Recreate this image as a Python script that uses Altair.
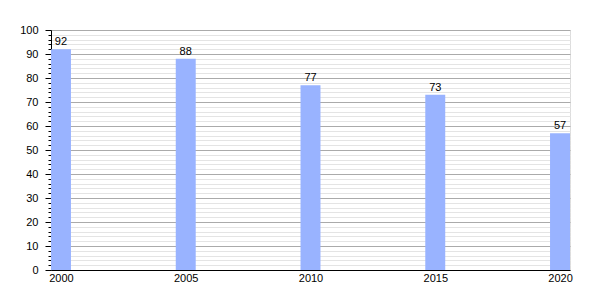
import altair as alt
import pandas as pd

years = [2000, 2005, 2010, 2015, 2020]
values = [92, 88, 77, 73, 57]
y_ticks = list(range(0, 101, 2))
x_ticks = [2000.4, 2005.4, 2010.4, 2015.4, 2020.4]

df = pd.DataFrame({"year": years, "value": values})

FONT = "Liberation Sans"
BAR = "#99b3ff"

xscale = alt.Scale(domain=[2000, 2020.8], nice=False, zero=False)
yscale = alt.Scale(domain=[0, 100], nice=False)

xaxis = alt.Axis(values=x_ticks, labelExpr="floor(datum.value)", title=None,
                 ticks=False, grid=False, domainColor="black", labelColor="black",
                 labelFont=FONT, labelFontSize=11, labelPadding=2, labelFlush=False)
yaxis = alt.Axis(values=y_ticks, title=None,
                 labelExpr="datum.value % 10 === 0 ? datum.value : ''",
                 domainColor="black", labelColor="black", labelFont=FONT,
                 labelFontSize=11, labelPadding=7,
                 tickColor="black",
                 tickSize={"condition": {"test": "datum.value % 10 === 0", "value": 6}, "value": 3},
                 gridColor={"condition": {"test": "datum.value % 10 === 0", "value": "#aaaaaa"}, "value": "#e4e4e4"},
                 labelFlush=False, labelOverlap=False)

base = alt.Chart(df).transform_calculate(
    x0="datum.year", x1="datum.year + 0.8", xm="datum.year + 0.4"
)

bars = base.mark_bar(color=BAR).encode(
    x=alt.X("x0:Q", scale=xscale, axis=xaxis),
    x2="x1:Q",
    y=alt.Y("value:Q", scale=yscale, axis=yaxis),
    y2=alt.datum(0),
)

labels = base.mark_text(baseline="bottom", dy=-2, font=FONT, fontSize=11, color="black").encode(
    x=alt.X("xm:Q", scale=xscale, axis=xaxis),
    y=alt.Y("value:Q", scale=yscale, axis=yaxis),
    text="value:Q",
)

chart = (bars + labels).properties(
    width=519, height=240,
    autosize=alt.AutoSizeParams(type="none"),
    padding={"left": 51, "top": 30, "right": 30, "bottom": 30},
).configure_view(stroke=None).configure(background="white")

chart.save("out.html", embed_options={"renderer": "svg", "actions": False})
